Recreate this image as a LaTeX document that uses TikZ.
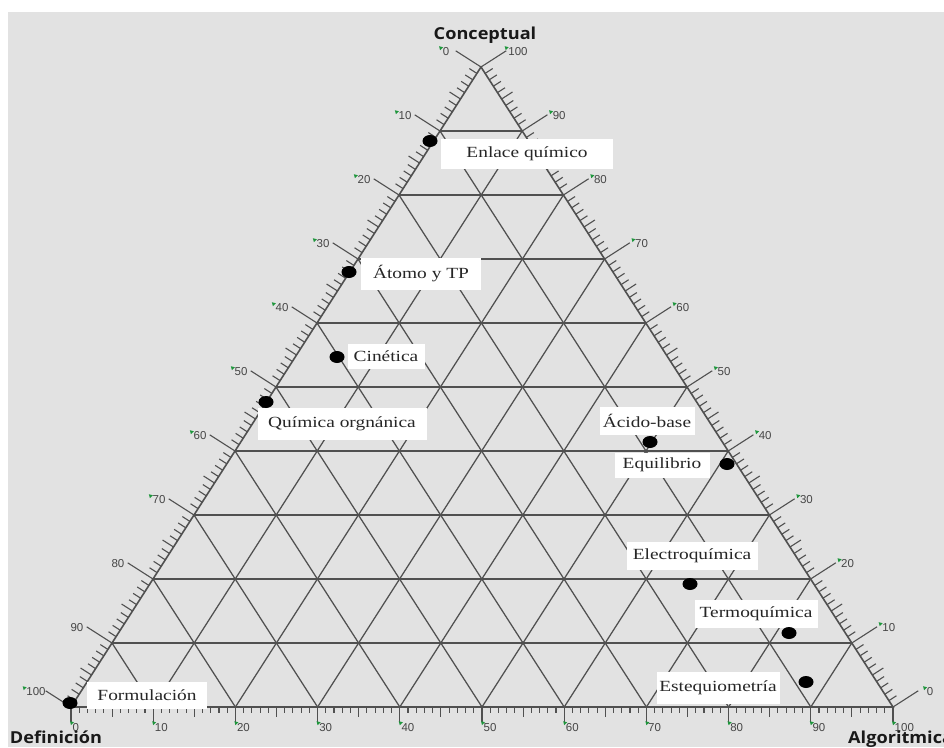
\documentclass[tikz,border=0pt]{standalone}
\usepackage{fontspec}
\usetikzlibrary{shapes.geometric,calc}
\setmainfont{Liberation Serif}
\newfontfamily\lblfont[FakeStretch=1.25]{Liberation Serif}
\newfontfamily\titlefont[FakeStretch=1.1]{Open Sans}
\newfontfamily\tickfont{Liberation Sans}
\definecolor{bg}{RGB}{226,226,226}
\definecolor{gridc}{RGB}{80,80,80}
\definecolor{tickgreen}{RGB}{30,150,60}
\definecolor{tickc}{RGB}{70,70,70}
\begin{document}
\begin{tikzpicture}[x=1pt,y=-1pt,
  gridline/.style={draw=gridc,line width=1.25pt},
  edgeline/.style={draw=gridc,line width=1.6pt},
  tickline/.style={draw=gridc,line width=1.1pt},
  dot/.style={ellipse,fill=black,minimum width=15pt,minimum height=12pt,inner sep=0pt},
  lbl/.style={fill=white,inner sep=0pt,text=black!85,font=\lblfont\fontsize{15.5}{15.5}\selectfont},
  ticklbl/.style={inner sep=0.5pt,text=tickc,font=\tickfont\fontsize{11.5}{11.5}\selectfont},
  titl/.style={inner sep=0pt,text=black!90,font=\titlefont\bfseries\fontsize{16.5}{16.5}\selectfont}
]
\useasboundingbox (0,0) rectangle (944,747);
\fill[white] (0,0) rectangle (944,747);
\fill[bg] (8,12) rectangle (944,747);

% triangle corners
\coordinate (A) at (481,67);
\coordinate (L) at (71,707);
\coordinate (R) at (893,707);

% grid
\foreach \k in {1,...,9}{
  \draw[gridline] (481-41*\k,67+64*\k) -- (481+41.2*\k,67+64*\k);
  \draw[gridline] (481-41*\k,67+64*\k) -- (893-82.2*\k,707);
  \draw[gridline] (481+41.2*\k,67+64*\k) -- (71+82.2*\k,707);
}
\draw[edgeline] (A) -- (L) -- (R) -- cycle;

% ticks
\foreach \v in {0,...,100}{
  \pgfmathsetmacro\len{ifthenelse(mod(\v,10)==0,30,ifthenelse(mod(\v,5)==0,13,9))}
  \pgfmathsetmacro\lenb{ifthenelse(mod(\v,10)==0,15,ifthenelse(mod(\v,5)==0,10,6))}
  \draw[tickline] (481-4.1*\v,67+6.4*\v) -- ++(-0.842*\len,-0.539*\len);
  \draw[tickline] (481+4.12*\v,67+6.4*\v) -- ++(0.841*\len,-0.541*\len);
  \draw[tickline] (71+8.22*\v,707) -- ++(0,\lenb);
}

% tick labels
\foreach \v in {0,10,...,100}{
  \pgfmathtruncatemacro\rv{100-\v}
  \node[ticklbl] (ll\v) at (446-4.1*\v,52+6.4*\v) {\v};
  \node[ticklbl] (rl\v) at (518+4.12*\v,52+6.4*\v) {\rv};
  \node[ticklbl,anchor=west] (bl\v) at (72+8.22*\v,728) {\v};
  \fill[tickgreen] ($(rl\v.north west)+(-3,-1)$) -- ++(4,1) -- ++(-3,3) -- cycle;
  \fill[tickgreen] ($(bl\v.north west)+(-2,-2)$) -- ++(4,1) -- ++(-3,3) -- cycle;
}
\foreach \v in {0,10,...,70,100}{
  \fill[tickgreen] ($(ll\v.north west)+(-3,-1)$) -- ++(4,1) -- ++(-3,3) -- cycle;
}

% titles
\node[titl] (tconc) at (485,35) {Conceptual};
\node[titl] (tdef) at (56,737) {Definición};
\node[titl,anchor=west] (talg) at (848,739) {Algoritmica};

% labels
\node[lbl,minimum width=172pt,minimum height=30pt] (lenl) at (527,154) {Enlace químico};
\node[lbl,minimum width=120pt,minimum height=32pt] (latm) at (421,274) {Átomo y TP};
\node[lbl,minimum width=77pt,minimum height=25pt] (lcin) at (386,356) {Cinética};
\node[lbl,minimum width=169pt,minimum height=32pt] (lorg) at (342,424) {Química orgnánica};
\node[lbl,minimum width=95pt,minimum height=28pt] (laci) at (647,421) {Ácido-base};
\node[lbl,minimum width=95pt,minimum height=25pt] (lequ) at (662,465) {Equilibrio};
\node[lbl,minimum width=131pt,minimum height=28pt] (lele) at (692,556) {Electroquímica};
\node[lbl,minimum width=123pt,minimum height=28pt] (lter) at (756,614) {Termoquímica};
\node[lbl,minimum width=123pt,minimum height=32pt] (lest) at (718,688) {Estequiometría};
\node[lbl,minimum width=120pt,minimum height=27pt] (lfor) at (147,695) {Formulación};

% dots
\node[dot] (denl) at (430,141) {};
\node[dot] (datm) at (349,272) {};
\node[dot] (dcin) at (337,357) {};
\node[dot] (dorg) at (266,402) {};
\node[dot] (daci) at (650,442) {};
\node[dot] (dequ) at (727,464) {};
\node[dot] (dele) at (690,584) {};
\node[dot] (dter) at (789,633) {};
\node[dot] (dest) at (806,682) {};
\node[dot] (dfor) at (70,703) {};
\end{tikzpicture}
\end{document}
